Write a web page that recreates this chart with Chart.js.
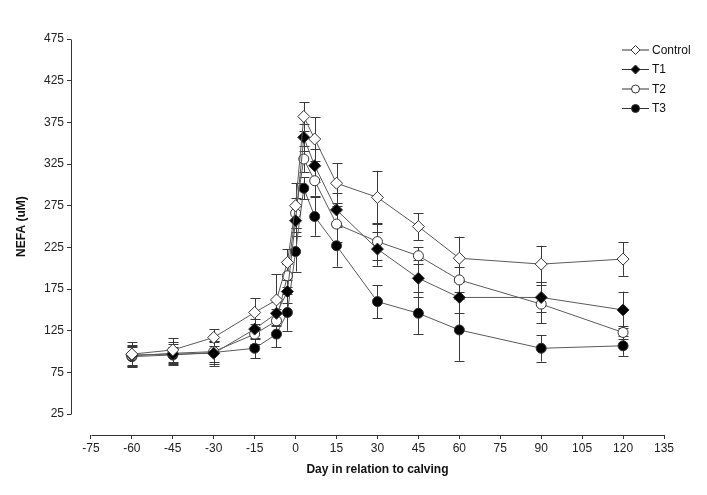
<!DOCTYPE html>
<html>
<head>
<meta charset="utf-8">
<script src="https://cdn.jsdelivr.net/npm/chart.js@4/dist/chart.umd.min.js"></script>
<style>
html,body{margin:0;padding:0;background:#fff;}
canvas{display:block;}
</style>
</head>
<body>
<canvas id="c" width="707" height="495"></canvas>
<script>
const days = [-60, -45, -30, -15, -7, -3, 0, 3, 7, 15, 30, 45, 60, 90, 120];

const seriesNames = ['Control', 'T1', 'T2', 'T3'];

const controlValues = [97, 102, 117, 147, 162, 207, 275, 382, 355, 302, 285, 250, 212, 205, 211];
const t1Values      = [96, 97, 98, 127, 146, 172, 257, 357, 323, 270, 223, 188, 165, 165, 150];
const t2Values      = [95, 98, 100, 121, 137, 191, 266, 331, 305, 253, 232, 215, 186, 157, 123];
const t3Values      = [94, 96, 99, 104, 121, 147, 220, 296, 262, 227, 160, 146, 126, 104, 107];

const controlErr = [14, 14, 10, 17, 31, 16, 27, 17, 26, 24, 32, 16, 26, 22, 20];
const t1Err      = [12, 12, 15, 12, 14, 14, 18, 16, 20, 20, 20, 22, 19, 18, 22];
const t2Err      = [12, 14, 12, 12, 14, 14, 18, 16, 18, 22, 22, 10, 15, 23, 8];
const t3Err      = [12, 10, 14, 12, 16, 22, 24, 13, 23, 25, 20, 25, 37, 16, 12];

const xTicks = [-75, -60, -45, -30, -15, 0, 15, 30, 45, 60, 75, 90, 105, 120, 135];
const yTicks = [25, 75, 125, 175, 225, 275, 325, 375, 425, 475];

const xTitle = 'Day in relation to calving';
const yTitle = 'NEFA (uM)';

const FONT = '"Liberation Sans", Arial, sans-serif';

const values = [controlValues, t1Values, t2Values, t3Values];
const errors = [controlErr, t1Err, t2Err, t3Err];
const styles = [
  {ps: 'rectRot', r: 6, bg: '#ffffff', lr: 4.5},
  {ps: 'rectRot', r: 6, bg: '#000000', lr: 4.5},
  {ps: 'circle', r: 5, bg: '#ffffff', lr: 4},
  {ps: 'circle', r: 5, bg: '#000000', lr: 4}
];

const datasets = seriesNames.map((name, i) => ({
  label: name,
  data: days.map((d, j) => ({x: d, y: values[i][j]})),
  errs: errors[i],
  borderColor: '#5a5a5a',
  borderWidth: 1,
  pointStyle: styles[i].ps,
  pointRadius: styles[i].r,
  pointBackgroundColor: styles[i].bg,
  pointBorderColor: '#333333',
  pointBorderWidth: 1,
  tension: 0,
  fill: false
}));

const errorBars = {
  id: 'errorBars',
  beforeDatasetsDraw(chart) {
    const ctx = chart.ctx;
    const xs = chart.scales.x, ys = chart.scales.y;
    ctx.save();
    ctx.strokeStyle = '#3a3a3a';
    ctx.lineWidth = 1;
    chart.data.datasets.forEach(ds => {
      ds.data.forEach((p, j) => {
        const e = ds.errs[j];
        const px = Math.round(xs.getPixelForValue(p.x)) + 0.5;
        const top = ys.getPixelForValue(p.y + e);
        const bot = ys.getPixelForValue(p.y - e);
        ctx.beginPath();
        ctx.moveTo(px, top); ctx.lineTo(px, bot);
        ctx.moveTo(px - 5, Math.round(top) + 0.5); ctx.lineTo(px + 5, Math.round(top) + 0.5);
        ctx.moveTo(px - 5, Math.round(bot) + 0.5); ctx.lineTo(px + 5, Math.round(bot) + 0.5);
        ctx.stroke();
      });
    });
    ctx.restore();
  }
};

const axesAndText = {
  id: 'axesAndText',
  afterDraw(chart) {
    const ctx = chart.ctx;
    const xs = chart.scales.x, ys = chart.scales.y;
    const ca = chart.chartArea;
    ctx.save();
    ctx.strokeStyle = '#333333';
    ctx.lineWidth = 1;
    // y axis line
    const lx = Math.round(ca.left) + 0.5;
    ctx.beginPath();
    ctx.moveTo(lx, Math.round(ys.getPixelForValue(yTicks[0])) + 0.5);
    ctx.lineTo(lx, Math.round(ys.getPixelForValue(yTicks[yTicks.length - 1])) + 0.5);
    ctx.stroke();
    // x axis line
    const by = Math.round(ca.bottom) + 0.5;
    ctx.beginPath();
    ctx.moveTo(Math.round(xs.getPixelForValue(xTicks[0])) + 0.5, by);
    ctx.lineTo(Math.round(xs.getPixelForValue(xTicks[xTicks.length - 1])) + 0.5, by);
    ctx.stroke();

    // axis titles
    ctx.fillStyle = '#111111';
    ctx.font = 'bold 12px ' + FONT;
    ctx.textAlign = 'center';
    ctx.textBaseline = 'middle';
    const xMid = (xs.getPixelForValue(xTicks[0]) + xs.getPixelForValue(xTicks[xTicks.length - 1])) / 2;
    ctx.fillText(xTitle, xMid, 470);
    const yMid = (ys.getPixelForValue(yTicks[0]) + ys.getPixelForValue(yTicks[yTicks.length - 1])) / 2;
    ctx.save();
    ctx.translate(22, yMid);
    ctx.rotate(-Math.PI / 2);
    ctx.fillText(yTitle, 0, 0);
    ctx.restore();

    // legend
    const rows = [50, 69.5, 89, 108.5];
    chart.data.datasets.forEach((ds, i) => {
      const y = rows[i];
      ctx.strokeStyle = '#333333';
      ctx.beginPath();
      ctx.moveTo(622, y); ctx.lineTo(649, y);
      ctx.stroke();
      ctx.fillStyle = styles[i].bg;
      ctx.strokeStyle = '#333333';
      Chart.helpers.drawPoint(ctx, {pointStyle: styles[i].ps, radius: styles[i].lr, rotation: 0, borderWidth: 1}, 635.5, y);
      ctx.fillStyle = '#111111';
      ctx.font = '12px ' + FONT;
      ctx.textAlign = 'left';
      ctx.textBaseline = 'middle';
      ctx.fillText(ds.label, 652, y + 0.5);
    });
    ctx.restore();
  }
};

new Chart(document.getElementById('c'), {
  type: 'line',
  data: {datasets},
  options: {
    responsive: false,
    animation: false,
    events: [],
    layout: {padding: {top: 39, right: 43, left: 0, bottom: 0}},
    plugins: {legend: {display: false}, tooltip: {enabled: false}},
    scales: {
      x: {
        type: 'linear',
        min: -82.3,
        max: 135,
        afterBuildTicks: s => { s.ticks = xTicks.map(v => ({value: v})); },
        afterFit: s => { s.height = 60; },
        grid: {display: true, drawOnChartArea: false, drawTicks: true, tickLength: 4, color: '#333333'},
        border: {display: false},
        ticks: {color: '#222222', font: {family: FONT, size: 12}, padding: 2, maxRotation: 0, autoSkip: false}
      },
      y: {
        type: 'linear',
        min: 0,
        max: 475,
        afterBuildTicks: s => { s.ticks = yTicks.map(v => ({value: v})); },
        afterFit: s => { s.width = 71; },
        grid: {display: true, drawOnChartArea: false, drawTicks: true, tickLength: 4, color: '#333333'},
        border: {display: false},
        ticks: {color: '#222222', font: {family: FONT, size: 12}, padding: 3}
      }
    }
  },
  plugins: [errorBars, axesAndText]
});
</script>
</body>
</html>
